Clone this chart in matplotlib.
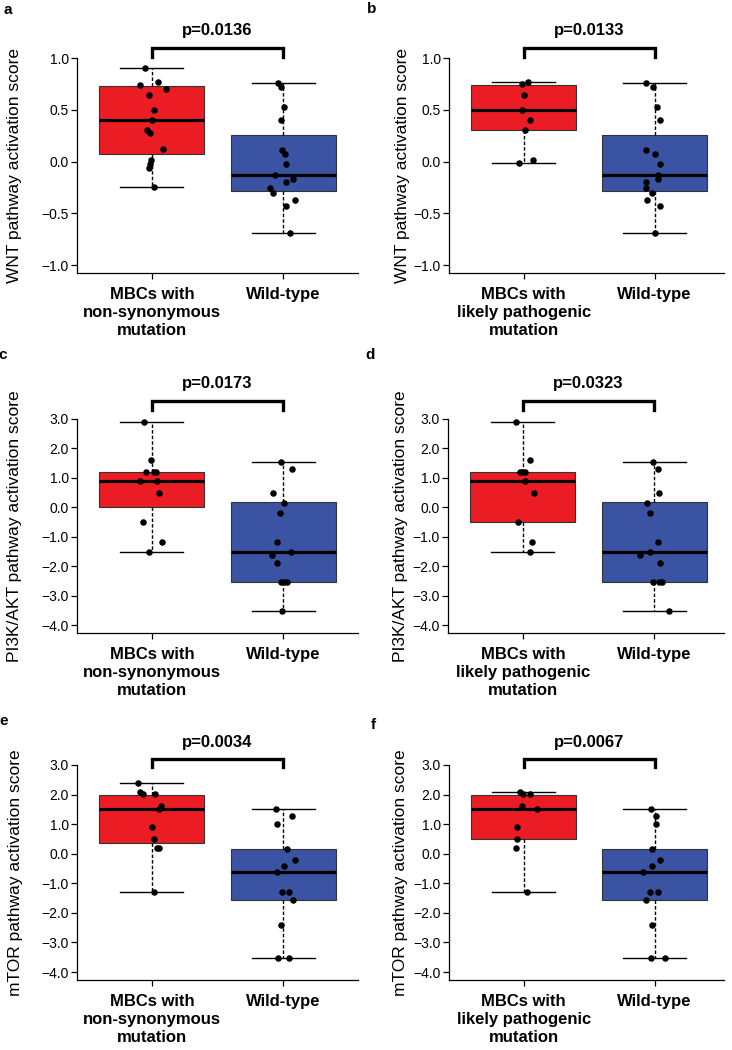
import numpy as np
import matplotlib.pyplot as plt

plt.rcParams['font.family'] = ['Liberation Sans', 'DejaVu Sans']

W, H = 732, 1050
RED = '#ec1c24'
BLUE = '#3a53a3'

labels_ns = ["MBCs with\nnon-synonymous\nmutation", "Wild-type"]
labels_lp = ["MBCs with\nlikely pathogenic\nmutation", "Wild-type"]

# ---- WNT ----
wnt_ns = [0.90, 0.74, 0.765, 0.70, 0.645, 0.494, 0.397, 0.306, 0.274, 0.119, 0.01, -0.026, -0.058, -0.242]
wnt_ns_dx = [-0.05, -0.09, 0.046, 0.11, -0.023, 0.013, 0.0, -0.04, -0.013, 0.084, -0.005, -0.013, -0.023, 0.02]
wnt_lp = [0.748, 0.765, 0.645, 0.494, 0.403, 0.306, -0.016, 0.01]
wnt_lp_dx = [-0.015, 0.036, 0.005, -0.013, 0.048, 0.013, -0.033, 0.071]
wnt_wt = [0.758, 0.719, 0.523, 0.403, 0.113, 0.074, -0.023, -0.135, -0.2, -0.171, -0.252, -0.306, -0.371, -0.426, -0.687]
wnt_wt_dx_a = [-0.043, -0.013, 0.008, -0.018, -0.005, 0.013, 0.02, -0.064, 0.02, 0.076, -0.102, -0.076, 0.089, 0.02, 0.051]
wnt_wt_dx_b = [-0.069, -0.013, 0.02, 0.043, -0.069, 0.0, 0.038, 0.025, -0.064, 0.025, -0.069, -0.02, -0.061, 0.043, 0.0]
# box stats: q1, median, q3, whisker low, whisker high
wnt_ns_box = [0.071, 0.397, 0.726, -0.242, 0.903]
wnt_lp_box = [0.306, 0.494, 0.742, -0.016, 0.765]
wnt_wt_box = [-0.281, -0.129, 0.258, -0.687, 0.758]

# ---- PI3K/AKT ----
pi3k_ns = [2.91, 1.61, 1.21, 1.21, 1.21, 0.906, 0.906, 0.498, -0.498, -1.19, -1.506]
pi3k_ns_dx = [-0.059, -0.008, -0.046, 0.013, 0.031, -0.089, 0.038, 0.056, -0.064, 0.076, -0.018]
pi3k_lp = [2.91, 1.61, 1.21, 1.21, 1.21, 0.906, 0.498, -0.498, -1.19, -1.506]
pi3k_lp_dx = [-0.056, 0.053, -0.025, -0.005, 0.015, 0.015, 0.084, -0.041, 0.071, 0.053]
pi3k_wt = [1.53, 1.30, 0.498, 0.159, -0.204, -1.19, -1.61, -1.506, -1.90, -2.55, -2.55, -2.55, -3.52]
pi3k_wt_dx_c = [-0.02, 0.069, -0.079, 0.01, -0.025, -0.046, -0.084, 0.056, -0.046, -0.013, 0.01, 0.031, -0.008]
pi3k_wt_dx_d = [-0.013, 0.025, 0.038, -0.059, -0.031, 0.025, -0.109, -0.031, 0.043, -0.008, 0.038, 0.058, 0.114]
pi3k_ns_box = [0.0, 0.906, 1.21, -1.506, 2.91]
pi3k_lp_box = [-0.498, 0.906, 1.21, -1.506, 2.91]
pi3k_wt_box = [-2.55, -1.506, 0.17, -3.52, 1.53]

# ---- mTOR ----
mtor_ns = [2.40, 2.10, 2.01, 2.01, 1.61, 1.51, 0.89, 0.50, 0.20, 0.20, -1.31]
mtor_ns_dx = [-0.102, -0.094, -0.069, 0.025, 0.069, 0.051, 0.0, 0.013, 0.038, 0.051, 0.013]
mtor_lp = [2.10, 2.01, 2.01, 1.61, 1.51, 0.89, 0.50, 0.20, -1.31]
mtor_lp_dx = [-0.031, -0.005, 0.046, -0.010, 0.102, -0.051, -0.051, -0.056, 0.025]
mtor_wt = [1.51, 1.28, 1.02, 0.144, -0.218, -0.42, -0.61, -1.31, -1.31, -1.55, -2.42, -3.53, -3.53]
mtor_wt_dx_e = [-0.056, 0.064, -0.046, 0.031, 0.094, 0.005, -0.046, -0.008, 0.043, 0.076, -0.013, -0.041, 0.046]
mtor_wt_dx_f = [-0.025, 0.008, 0.013, -0.018, 0.043, -0.018, -0.089, -0.033, 0.028, -0.069, -0.02, -0.025, 0.076]
mtor_ns_box = [0.35, 1.51, 2.0, -1.31, 2.40]
mtor_lp_box = [0.50, 1.51, 2.0, -1.31, 2.10]
mtor_wt_box = [-1.55, -0.61, 0.144, -3.53, 1.51]

wnt_ticks = [-1.0, -0.5, 0.0, 0.5, 1.0]
big_ticks = [-4.0, -3.0, -2.0, -1.0, 0.0, 1.0, 2.0, 3.0]

panels = [
    # letter, pixel box (l, t, r, b), ylim, ticks, ylabel, xlabels, groups, boxes, pval, bracket (y, tail), ylabel x
    ('a', (77, 58, 358, 273), (-1.077, 1.0), wnt_ticks, 'WNT pathway activation score', labels_ns,
     [(wnt_ns, wnt_ns_dx), (wnt_wt, wnt_wt_dx_a)], [wnt_ns_box, wnt_wt_box], 'p=0.0136', (1.10, 1.01), 15, (0.43, 2.57)),
    ('b', (449, 58, 724, 273), (-1.077, 1.0), wnt_ticks, 'WNT pathway activation score', labels_lp,
     [(wnt_lp, wnt_lp_dx), (wnt_wt, wnt_wt_dx_b)], [wnt_lp_box, wnt_wt_box], 'p=0.0133', (1.10, 1.01), 403, (0.43, 2.53)),
    ('c', (77, 419, 358, 633), (-4.27, 3.0), big_ticks, 'PI3K/AKT pathway activation score', labels_ns,
     [(pi3k_ns, pi3k_ns_dx), (pi3k_wt, pi3k_wt_dx_c)], [pi3k_ns_box, pi3k_wt_box], 'p=0.0173', (3.62, 3.31), 15, (0.43, 2.57)),
    ('d', (448, 419, 724, 633), (-4.27, 3.0), big_ticks, 'PI3K/AKT pathway activation score', labels_lp,
     [(pi3k_lp, pi3k_lp_dx), (pi3k_wt, pi3k_wt_dx_d)], [pi3k_lp_box, pi3k_wt_box], 'p=0.0323', (3.62, 3.31), 400, (0.43, 2.53)),
    ('e', (77, 765, 358, 980), (-4.27, 3.0), big_ticks, 'mTOR pathway activation score', labels_ns,
     [(mtor_ns, mtor_ns_dx), (mtor_wt, mtor_wt_dx_e)], [mtor_ns_box, mtor_wt_box], 'p=0.0034', (3.19, 2.94), 16, (0.43, 2.57)),
    ('f', (449, 765, 724, 980), (-4.27, 3.0), big_ticks, 'mTOR pathway activation score', labels_lp,
     [(mtor_lp, mtor_lp_dx), (mtor_wt, mtor_wt_dx_f)], [mtor_lp_box, mtor_wt_box], 'p=0.0067', (3.19, 2.94), 401, (0.43, 2.53)),
]

letter_pos = {'a': (8, 10), 'b': (372, 9), 'c': (3, 355), 'd': (370, 355), 'e': (4, 721), 'f': (373, 725)}

fig = plt.figure(figsize=(W / 100, H / 100), dpi=100)

for (letter, (l, t, r, b), ylim, ticks, ylab, xlabs, groups, boxes, pval, (by, btail), ylx, xlim) in panels:
    ax = fig.add_axes([l / W, 1 - b / H, (r - l) / W, (b - t) / H])

    stats = []
    for bx, lab in zip(boxes, xlabs):
        stats.append(dict(q1=bx[0], med=bx[1], q3=bx[2], whislo=bx[3], whishi=bx[4], label=lab))
    bp = ax.bxp(stats, positions=[1, 2], widths=0.8, capwidths=0.48, patch_artist=True,
                showfliers=False,
                boxprops=dict(edgecolor='#333333', linewidth=0.8),
                medianprops=dict(color='black', linewidth=2.3),
                whiskerprops=dict(color='black', linestyle=(0, (2.5, 1.5)), linewidth=1.0),
                capprops=dict(color='black', linewidth=1.0))
    for patch, c in zip(bp['boxes'], [RED, BLUE]):
        patch.set_facecolor(c)

    for i, (vals, dx) in enumerate(groups):
        ax.scatter(np.array(dx) + i + 1, vals, s=22, color='black', zorder=5, clip_on=False,
                   linewidths=0)

    ax.set_xlim(*xlim)
    ax.set_ylim(*ylim)
    ax.set_yticks(ticks)
    ax.set_yticklabels([f'{v:.1f}'.replace('-', '\u2212') for v in ticks])
    ax.set_xticks([1, 2])
    ax.set_xticklabels(xlabs, fontweight='bold', fontsize=12, linespacing=1.25)
    ax.tick_params(axis='y', labelsize=10, length=4, width=0.9, pad=2)
    ax.tick_params(axis='x', length=4, width=0.9, pad=6)
    for s in ['top', 'right']:
        ax.spines[s].set_visible(False)
    for s in ['left', 'bottom']:
        ax.spines[s].set_linewidth(0.9)

    # significance bracket
    ax.plot([1, 1, 2, 2], [btail, by, by, btail], color='black', linewidth=2.4, clip_on=False,
            solid_joinstyle='miter')
    ax.annotate(pval, xy=(1.5, by), xytext=(0, 9), textcoords='offset points', ha='center',
                va='baseline', fontsize=12, fontweight='bold', annotation_clip=False)

    fig.text(ylx / W, 1 - (t + b) / 2 / H, ylab, rotation=90, ha='center', va='center', fontsize=12.5)
    lx, ly = letter_pos[letter]
    fig.text(lx / W, 1 - ly / H, letter, ha='center', va='center', fontsize=11, fontweight='bold')

fig.savefig('out.png', dpi=100)
